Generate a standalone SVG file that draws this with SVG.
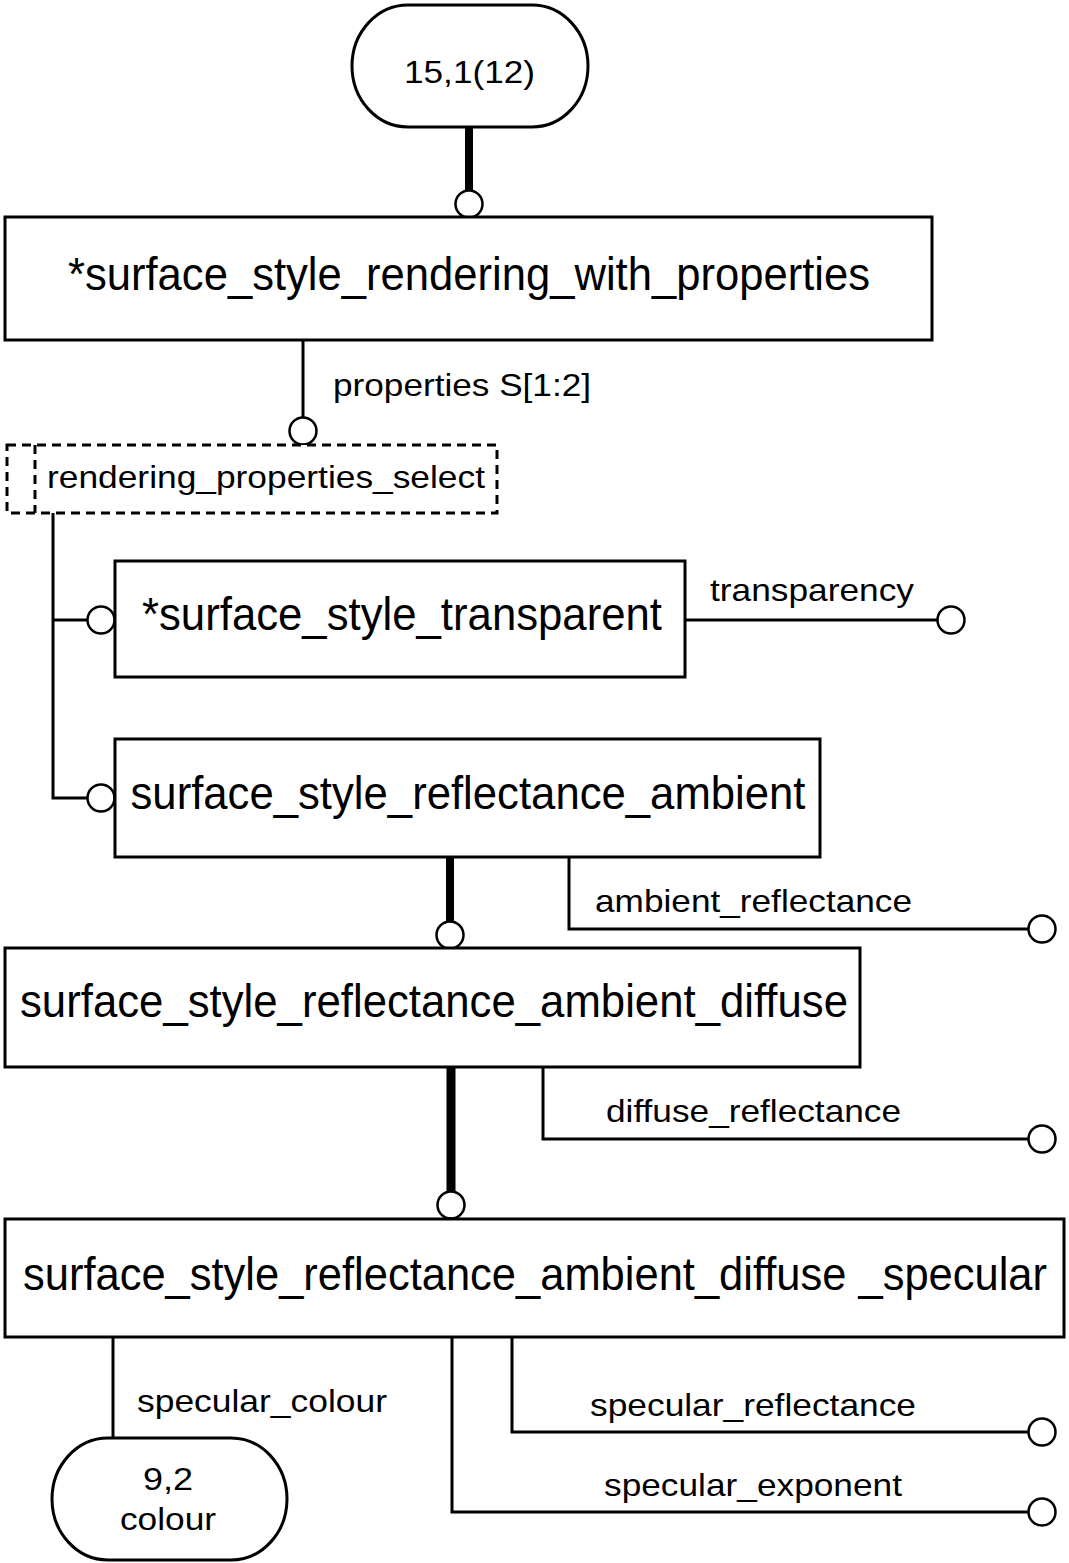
<svg xmlns="http://www.w3.org/2000/svg" width="1069" height="1563" viewBox="0 0 1069 1563">
<style>
  .box { fill: #ffffff; stroke: #000000; stroke-width: 3; }
  .sel { fill: #ffffff; stroke: #000000; stroke-width: 3; stroke-dasharray: 9 6; }
  .line { fill: none; stroke: #000000; stroke-width: 3; }
  .thick { fill: none; stroke: #000000; stroke-width: 8; }
  .thicker { fill: none; stroke: #000000; stroke-width: 9; }
  .end { fill: #ffffff; stroke: #000000; stroke-width: 2.5; }
  .main { font-family: "Liberation Sans", Arial, sans-serif; font-size: 46px; fill: #000000; text-anchor: middle; }
  .lbl { font-family: "Liberation Sans", Arial, sans-serif; font-size: 32px; fill: #000000; }
  .mid { text-anchor: middle; }
</style>
<rect width="1069" height="1563" fill="#ffffff"/>

<g id="connectors">
  <!-- 15,1(12) to surface_style_rendering_with_properties -->
  <line class="thick" x1="469" y1="127" x2="469" y2="191"/>
  <circle class="end" cx="469" cy="204" r="13.5"/>
  <!-- properties S[1:2] -->
  <line class="line" x1="303" y1="340" x2="303" y2="418"/>
  <circle class="end" cx="303" cy="431" r="13.5"/>
  <text class="lbl" x="333" y="396" textLength="258" lengthAdjust="spacingAndGlyphs">properties S[1:2]</text>
  <!-- select branches -->
  <polyline class="line" points="53,513 53,798 87,798"/>
  <line class="line" x1="53" y1="620" x2="87" y2="620"/>
  <circle class="end" cx="101" cy="620" r="13.5"/>
  <circle class="end" cx="101" cy="798" r="13.5"/>
  <!-- transparency -->
  <line class="line" x1="685" y1="620" x2="937" y2="620"/>
  <circle class="end" cx="951" cy="620" r="13.5"/>
  <text class="lbl" x="710" y="601" textLength="204" lengthAdjust="spacingAndGlyphs">transparency</text>
  <!-- ambient subtype -->
  <line class="thick" x1="450" y1="857" x2="450" y2="922"/>
  <circle class="end" cx="450" cy="935" r="13.5"/>
  <!-- ambient_reflectance -->
  <polyline class="line" points="569,857 569,929 1028,929"/>
  <circle class="end" cx="1042" cy="929" r="13.5"/>
  <text class="lbl" x="595" y="912" textLength="317" lengthAdjust="spacingAndGlyphs">ambient_reflectance</text>
  <!-- diffuse subtype -->
  <line class="thicker" x1="451" y1="1067" x2="451" y2="1192"/>
  <circle class="end" cx="451" cy="1205" r="13.5"/>
  <!-- diffuse_reflectance -->
  <polyline class="line" points="543,1067 543,1139 1028,1139"/>
  <circle class="end" cx="1042" cy="1139" r="13.5"/>
  <text class="lbl" x="606" y="1122" textLength="295" lengthAdjust="spacingAndGlyphs">diffuse_reflectance</text>
  <!-- specular_colour -->
  <line class="line" x1="113" y1="1337" x2="113" y2="1438"/>
  <text class="lbl" x="137" y="1412" textLength="250" lengthAdjust="spacingAndGlyphs">specular_colour</text>
  <!-- specular_reflectance -->
  <polyline class="line" points="512,1337 512,1432 1028,1432"/>
  <circle class="end" cx="1042" cy="1432" r="13.5"/>
  <text class="lbl" x="590" y="1416" textLength="326" lengthAdjust="spacingAndGlyphs">specular_reflectance</text>
  <!-- specular_exponent -->
  <polyline class="line" points="452,1337 452,1512 1028,1512"/>
  <circle class="end" cx="1042" cy="1512" r="13.5"/>
  <text class="lbl" x="604" y="1496" textLength="298" lengthAdjust="spacingAndGlyphs">specular_exponent</text>
</g>

<g id="ref_15_1_12">
  <rect class="box" x="352" y="5" width="236" height="122" rx="56" ry="61"/>
  <text class="lbl mid" x="469.5" y="83" textLength="131" lengthAdjust="spacingAndGlyphs">15,1(12)</text>
</g>

<g id="surface_style_rendering_with_properties">
  <rect class="box" x="5" y="217" width="927" height="123"/>
  <text class="main" x="469" y="290" textLength="802" lengthAdjust="spacingAndGlyphs">*surface_style_rendering_with_properties</text>
</g>

<g id="rendering_properties_select">
  <rect class="sel" x="7" y="445" width="490" height="68"/>
  <line class="sel" x1="35" y1="445" x2="35" y2="513"/>
  <text class="lbl" x="47" y="488" textLength="438" lengthAdjust="spacingAndGlyphs">rendering_properties_select</text>
</g>

<g id="surface_style_transparent">
  <rect class="box" x="115" y="561" width="570" height="116"/>
  <text class="main" x="402" y="630" textLength="520" lengthAdjust="spacingAndGlyphs">*surface_style_transparent</text>
</g>

<g id="surface_style_reflectance_ambient">
  <rect class="box" x="115" y="739" width="705" height="118"/>
  <text class="main" x="468" y="809" textLength="675" lengthAdjust="spacingAndGlyphs">surface_style_reflectance_ambient</text>
</g>

<g id="surface_style_reflectance_ambient_diffuse">
  <rect class="box" x="5" y="948" width="855" height="119"/>
  <text class="main" x="434" y="1017" textLength="828" lengthAdjust="spacingAndGlyphs">surface_style_reflectance_ambient_diffuse</text>
</g>

<g id="surface_style_reflectance_ambient_diffuse_specular">
  <rect class="box" x="5" y="1219" width="1059" height="118"/>
  <text class="main" x="535" y="1290" textLength="1024" lengthAdjust="spacingAndGlyphs">surface_style_reflectance_ambient_diffuse _specular</text>
</g>

<g id="ref_9_2_colour">
  <rect class="box" x="52" y="1438" width="235" height="122" rx="56" ry="61"/>
  <text class="lbl mid" x="168" y="1490" textLength="50" lengthAdjust="spacingAndGlyphs">9,2</text>
  <text class="lbl mid" x="168" y="1530" textLength="96" lengthAdjust="spacingAndGlyphs">colour</text>
</g>
</svg>
